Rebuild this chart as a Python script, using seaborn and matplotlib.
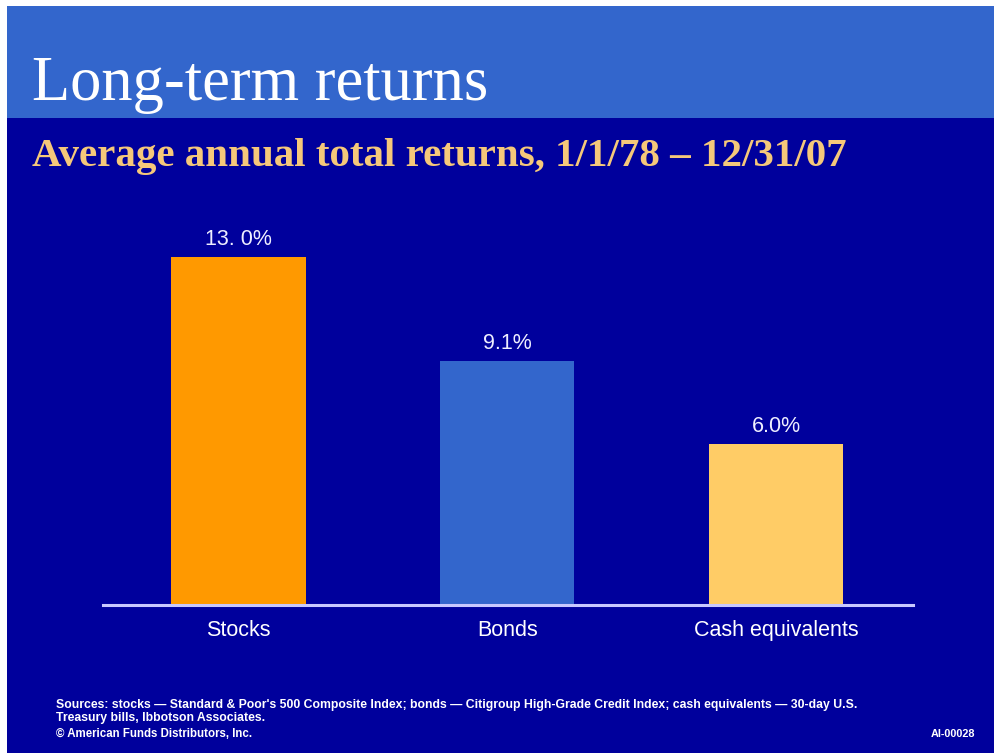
import matplotlib
matplotlib.use("Agg")
import matplotlib.pyplot as plt
import seaborn as sns
import pandas as pd
from matplotlib.patches import Rectangle

categories = ["Stocks", "Bonds", "Cash equivalents"]
returns = [13.0, 9.1, 6.0]
value_labels = ["13. 0%", "9.1%", "6.0%"]
bar_colors = ["#FF9900", "#3366CC", "#FFCC66"]

title = "Long-term returns"
subtitle = "Average annual total returns, 1/1/78 \u2013 12/31/07"
source_lines = [
    "Sources: stocks \u2014 Standard & Poor's 500 Composite Index; bonds \u2014 Citigroup High-Grade Credit Index; cash equivalents \u2014 30-day U.S.",
    "Treasury bills, Ibbotson Associates.",
]
copyright_text = "\u00a9 American Funds Distributors, Inc."
code_text = "AI-00028"

sns.set_theme(style="white")
plt.rcParams["font.family"] = ["Liberation Sans", "DejaVu Sans"]

W, H = 995, 753
fig = plt.figure(figsize=(W / 100, H / 100), dpi=100, facecolor="white")

# slide background
fig.patches.append(Rectangle((7 / W, 0), 1 - 7 / W, 1 - 6 / H, transform=fig.transFigure,
                             facecolor="#00009C", edgecolor="none", zorder=-10))
fig.patches.append(Rectangle((7 / W, 1 - 118 / H), 1 - 7 / W, (118 - 6) / H, transform=fig.transFigure,
                             facecolor="#3366CC", edgecolor="none", zorder=-9))

fig.text(32 / W, 1 - 100 / H, title, family="Liberation Serif", fontsize=45, color="white",
         ha="left", va="baseline")
fig.text(32 / W, 1 - 166 / H, subtitle, family="Liberation Serif", fontsize=29.5, fontweight="bold",
         color="#F5C87A", ha="left", va="baseline")

df = pd.DataFrame({"category": categories, "value": returns})

ax = fig.add_axes([103 / W, (753 - 605) / H, 810 / W, 401.5 / H])
ax.set_facecolor("none")
sns.barplot(data=df, x="category", y="value", hue="category", palette=bar_colors,
            width=0.5, legend=False, ax=ax, saturation=1, edgecolor="none", linewidth=0)
ax.set_xlim(-0.504, 2.51)
ax.set_ylim(0, 15)

for p, lab in zip(ax.patches, value_labels):
    ax.annotate(lab, (p.get_x() + p.get_width() / 2, p.get_height()),
                xytext=(0, 5), textcoords="offset points", ha="center", va="bottom",
                fontsize=15.5, color="#EEEEFF")

for s in ["top", "right", "left"]:
    ax.spines[s].set_visible(False)
ax.spines["bottom"].set_color("#C8C8FF")
ax.spines["bottom"].set_linewidth(2.2)
ax.set_yticks([])
ax.set_xlabel("")
ax.set_ylabel("")
ax.tick_params(axis="x", length=0, pad=11, labelsize=15.5, labelcolor="white")

fig.text(56 / W, 1 - 708 / H, source_lines[0], fontsize=8.8, fontweight="bold", color="white",
         ha="left", va="baseline")
fig.text(56 / W, 1 - 721 / H, source_lines[1], fontsize=8.8, fontweight="bold", color="white",
         ha="left", va="baseline")
fig.text(56 / W, 1 - 737 / H, copyright_text, fontsize=8.3, fontweight="bold", color="white",
         ha="left", va="baseline")
fig.text(975 / W, 1 - 737 / H, code_text, fontsize=7.8, fontweight="bold", color="white",
         ha="right", va="baseline")

fig.savefig("out.png", dpi=100, facecolor="white")
